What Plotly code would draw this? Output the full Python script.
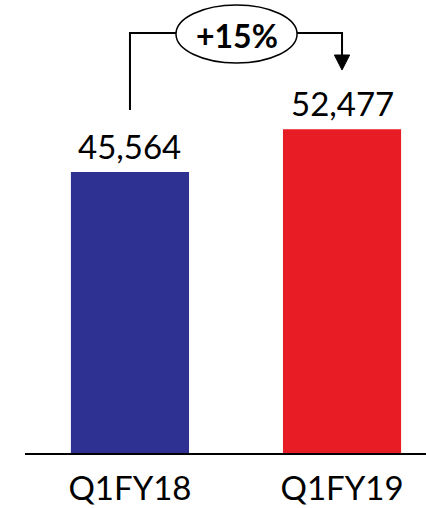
import plotly.graph_objects as go

categories = ["Q1FY18", "Q1FY19"]
values = [45564, 52477]
value_labels = ["45,564", "52,477"]
colors = ["#2E3192", "#E81C24"]
growth_label = "+15%"

FONT = "Lato"
k = 281 / 45564  # px per unit
ymax = 453 / k

xs = list(range(len(categories)))
fig = go.Figure()
fig.add_trace(go.Bar(x=xs, y=values, marker=dict(color=colors, line=dict(width=0)),
                     width=0.557, hoverinfo="skip"))

for x, v, t in zip(xs, values, value_labels):
    fig.add_annotation(x=x, y=v, text=t, showarrow=False, yanchor="bottom",
                       yshift=4, font=dict(family=FONT, size=33, color="black"))

# growth bracket
y_level = max(values) + 15626
y_start = values[0] + 10053
y_tip = values[1] + 9626
y_head = values[1] + 12059
e_x0, e_x1 = 0.217, 0.788
e_y0, e_y1 = max(values) + 10761, max(values) + 20166
line = dict(color="black", width=2)
fig.add_shape(type="path", xref="x", yref="y",
              path=f"M {xs[0]},{y_start} L {xs[0]},{y_level} L {e_x0},{y_level}", line=line)
fig.add_shape(type="path", xref="x", yref="y",
              path=f"M {e_x1},{y_level} L {xs[1]},{y_level} L {xs[1]},{y_head}", line=line)
fig.add_shape(type="path", xref="x", yref="y",
              path=f"M {xs[1]-0.036},{y_head} L {xs[1]+0.036},{y_head} L {xs[1]},{y_tip} Z",
              line=dict(color="black", width=1), fillcolor="black")
fig.add_shape(type="circle", xref="x", yref="y", x0=e_x0, x1=e_x1, y0=e_y0, y1=e_y1,
              line=dict(color="black", width=1.5), fillcolor="white")
fig.add_annotation(x=(e_x0 + e_x1) / 2, y=(e_y0 + e_y1) / 2, text=f"<b>{growth_label}</b>",
                   showarrow=False, yshift=-1, font=dict(family=FONT, size=32, color="black"))

fig.update_layout(
    width=426, height=508, margin=dict(l=25, r=0, t=0, b=55),
    paper_bgcolor="white", plot_bgcolor="white", showlegend=False,
    xaxis=dict(range=[-0.495, 1.396], tickvals=xs, ticktext=categories, showgrid=False,
               zeroline=False, showline=True, linecolor="black", linewidth=2, ticks="",
               ticklabelstandoff=5,
               tickfont=dict(family=FONT, size=33, color="black")),
    yaxis=dict(range=[0, ymax], visible=False, showgrid=False, zeroline=False),
)
fig.write_html("out.html")
